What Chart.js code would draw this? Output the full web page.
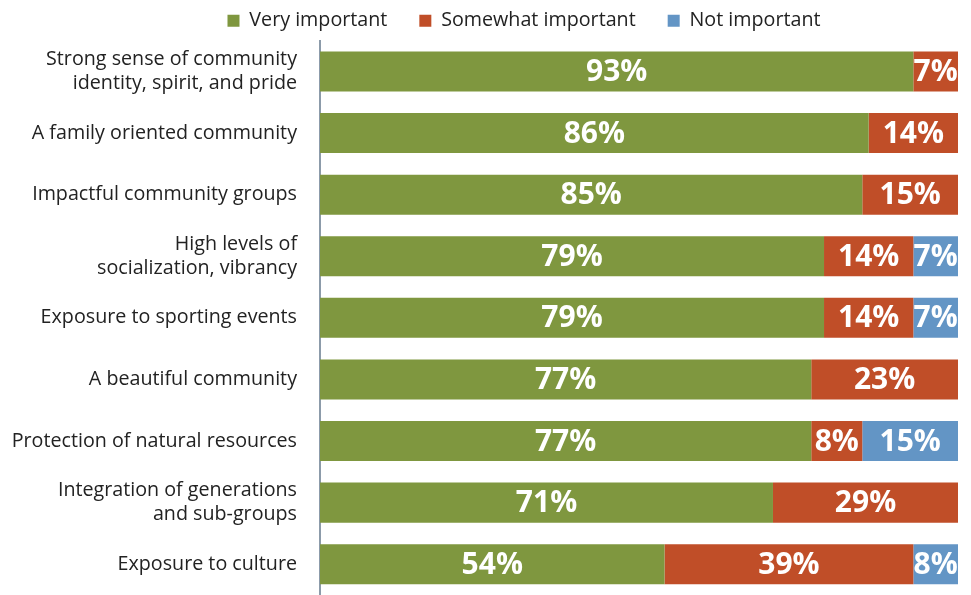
<!DOCTYPE html>
<html>
<head>
<meta charset="utf-8">
<script src="https://cdn.jsdelivr.net/npm/chart.js@4/dist/chart.umd.min.js"></script>
<style>
  html, body { margin: 0; padding: 0; background: #fff; }
  #wrap { width: 971px; height: 595px; position: relative; }
</style>
</head>
<body>
<div id="wrap"><canvas id="chart"></canvas></div>
<script>
// categories (top to bottom)
const categories = [
  ["Strong sense of community", "identity, spirit, and pride"],
  "A family oriented community",
  "Impactful community groups",
  ["High levels of", "socialization, vibrancy"],
  "Exposure to sporting events",
  "A beautiful community",
  "Protection of natural resources",
  ["Integration of generations", "and sub-groups"],
  "Exposure to culture"
];

// percentages per answer
const veryImportant     = [93, 86, 85, 79, 79, 77, 77, 71, 54];
const somewhatImportant = [7, 14, 15, 14, 14, 23, 8, 29, 39];
const notImportant      = [0, 0, 0, 7, 7, 0, 15, 0, 8];

const colors = {
  very: "#7f973f",
  somewhat: "#c04e28",
  not: "#6395c5"
};

const FONT = "'Open Sans', 'Noto Sans', sans-serif";

// white % labels in the middle of each segment
const barLabels = {
  id: "barLabels",
  afterDatasetsDraw(chart) {
    const { ctx, chartArea } = chart;
    ctx.save();
    ctx.font = "bold 30px " + FONT;
    ctx.fillStyle = "#ffffff";
    ctx.textAlign = "center";
    ctx.textBaseline = "middle";
    chart.data.datasets.forEach((ds, i) => {
      const meta = chart.getDatasetMeta(i);
      meta.data.forEach((bar, j) => {
        const v = ds.data[j];
        if (!v) return;
        const left = Math.max(bar.base, chartArea.left);
        const right = Math.min(bar.x, chartArea.right);
        ctx.fillText(v + "%", (left + right) / 2, bar.y + 1);
      });
    });
    ctx.restore();
  }
};

// legend sits a bit right of the canvas centre in the original
const legendShift = {
  id: "legendShift",
  afterLayout(chart) {
    if (!chart.legend) return;
    chart.legend.left += 45;
    chart.legend.right += 45;
  }
};

new Chart(document.getElementById("chart"), {
  type: "bar",
  data: {
    labels: categories,
    datasets: [
      { label: "Very important", data: veryImportant, backgroundColor: colors.very },
      { label: "Somewhat important", data: somewhatImportant, backgroundColor: colors.somewhat },
      { label: "Not important", data: notImportant, backgroundColor: colors.not }
    ]
  },
  options: {
    indexAxis: "y",
    responsive: true,
    maintainAspectRatio: false,
    animation: false,
    datasets: {
      bar: { barPercentage: 0.65, categoryPercentage: 1, borderWidth: 0 }
    },
    layout: { padding: { top: -21, right: 13, bottom: 0, left: 0 } },
    plugins: {
      tooltip: { enabled: false },
      legend: {
        position: "top",
        labels: {
          boxWidth: 12,
          boxHeight: 12,
          padding: 32,
          color: "#222",
          font: { family: FONT, size: 19.7 }
        }
      }
    },
    scales: {
      x: {
        stacked: true,
        display: false,
        min: 0,
        max: 100
      },
      y: {
        stacked: true,
        grid: { display: false, drawTicks: false },
        border: { display: true, color: "#8c9baa", width: 2 },
        ticks: {
          color: "#222",
          padding: 23,
          font: { family: FONT, size: 19.7, lineHeight: 1.2 }
        },
        afterFit: (s) => {
          s.width = 320;
          s.paddingTop = 0;
          s.paddingBottom = 0;
        }
      }
    }
  },
  plugins: [barLabels, legendShift]
});
</script>
</body>
</html>
